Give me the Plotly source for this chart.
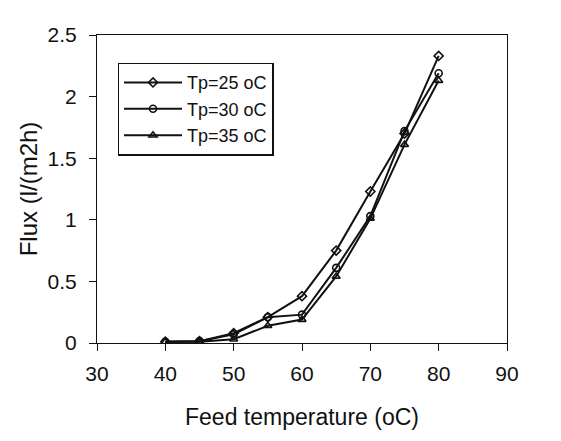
import plotly.graph_objects as go

# feed temperature (oC)
feed_temp = [40, 45, 50, 55, 60, 65, 70, 75, 80]

# flux l/(m2h) for each permeate temperature
flux_tp25 = [0.01, 0.015, 0.08, 0.21, 0.38, 0.75, 1.23, 1.70, 2.33]
flux_tp30 = [0.01, 0.015, 0.07, 0.21, 0.23, 0.61, 1.03, 1.72, 2.19]
flux_tp35 = [0.01, 0.01, 0.03, 0.14, 0.19, 0.54, 1.01, 1.61, 2.13]

series_names = ["Tp=25 oC", "Tp=30 oC", "Tp=35 oC"]
symbols = ["diamond-open", "circle-open", "triangle-up-open"]

x_ticks = [30, 40, 50, 60, 70, 80, 90]
y_ticks = [0, 0.5, 1, 1.5, 2, 2.5]
y_tick_labels = ["0", "0.5", "1", "1.5", "2", "2.5"]

FONT = "Liberation Sans, Arial, sans-serif"

fig = go.Figure()

for name, ys, sym in zip(series_names, [flux_tp25, flux_tp30, flux_tp35], symbols):
    fig.add_trace(go.Scatter(
        x=feed_temp,
        y=ys,
        mode="lines+markers",
        name=name,
        line=dict(color="#111", width=2),
        marker=dict(symbol=sym, size=7, color="#111", line=dict(color="#111", width=1.6)),
    ))

# page has an 8px body margin, so margins are set 8px smaller on the top/left
fig.update_layout(
    width=561,
    height=441,
    margin=dict(l=89, r=62, t=27, b=106),
    paper_bgcolor="white",
    plot_bgcolor="white",
    font=dict(family=FONT, size=19, color="#111"),
    showlegend=True,
    legend=dict(
        x=0.05, y=0.91, xanchor="left", yanchor="top",
        bordercolor="#111", borderwidth=1.5,
        bgcolor="white",
        font=dict(size=18),
        tracegroupgap=0,
        itemwidth=58,
    ),
)

fig.update_xaxes(
    range=[30, 90],
    tickvals=x_ticks,
    tickfont=dict(size=21),
    ticks="outside", ticklen=7, tickcolor="#111",
    ticklabelstandoff=5,
    showline=True, linecolor="#111", linewidth=1.2, mirror=True,
    showgrid=False, zeroline=False,
    title=dict(text="Feed temperature (oC)", standoff=24),
)
fig.update_yaxes(
    range=[0, 2.5],
    tickvals=y_ticks,
    ticktext=y_tick_labels,
    tickfont=dict(size=21),
    ticks="outside", ticklen=7, tickcolor="#111",
    ticklabelstandoff=8,
    showline=True, linecolor="#111", linewidth=1.2, mirror=True,
    showgrid=False, zeroline=False,
    title=dict(text="Flux (l/(m2h)", font=dict(size=24), standoff=3),
)

fig.write_html("out.html")
